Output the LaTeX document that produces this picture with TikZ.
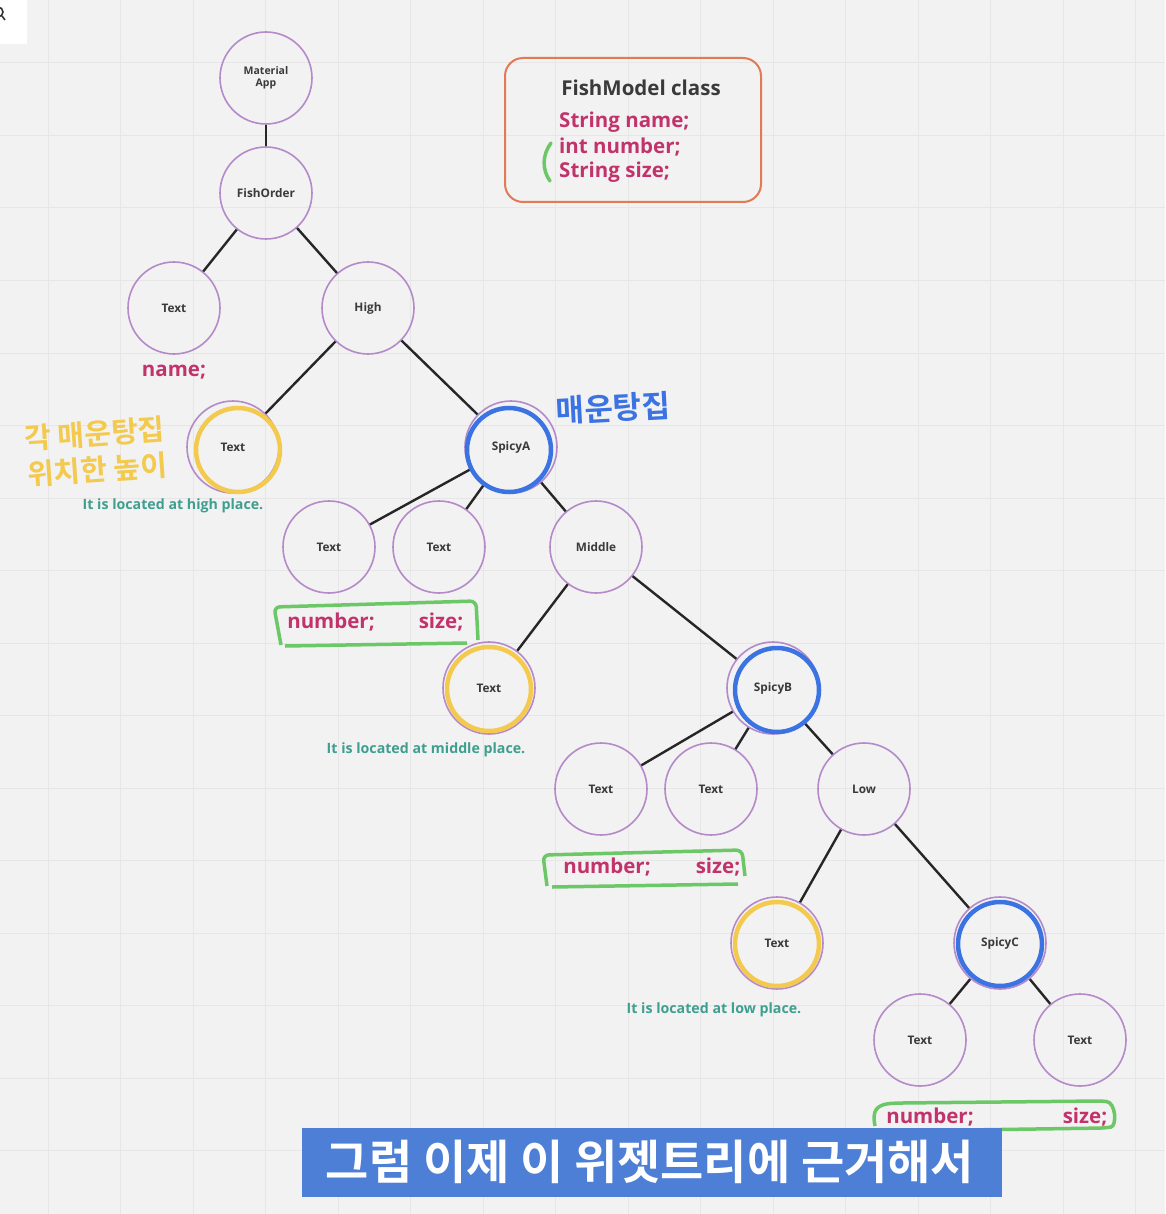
\documentclass[tikz,border=0pt]{standalone}
\usepackage{fontspec}
\setmainfont{Open Sans}
\newfontfamily\krfont{Noto Sans CJK KR}
\newfontfamily\krbold{Noto Sans CJK KR}[UprightFont=* Bold]
\definecolor{bgc}{HTML}{F2F2F2}
\definecolor{gridc}{HTML}{E6E6E6}
\definecolor{ringc}{HTML}{B58AC9}
\definecolor{pinkc}{HTML}{C2336B}
\definecolor{tealc}{HTML}{3E9E90}
\definecolor{greenc}{HTML}{6CC867}
\definecolor{yellowc}{HTML}{F3C94E}
\definecolor{bluec}{HTML}{3C73E3}
\definecolor{orangec}{HTML}{E27A55}
\definecolor{capc}{HTML}{4E7FD6}
\definecolor{txtc}{HTML}{3A3A3A}
\tikzset{
  nd/.style={circle, draw=ringc, line width=1.6pt, minimum size=92pt, inner sep=0pt,
    font=\fontsize{11.8}{13}\selectfont\bfseries, text=txtc, align=center},
  edge/.style={line width=2.4pt, black!85},
  yring/.style={circle, draw=yellowc, line width=4.5pt, minimum size=84pt, inner sep=0pt},
  bring/.style={circle, draw=bluec, line width=4.5pt, minimum size=84pt, inner sep=0pt},
  pinklab/.style={font=\fontsize{20.5}{24}\selectfont\bfseries, text=pinkc},
  teallab/.style={font=\fontsize{14.2}{16}\selectfont\bfseries, text=tealc},
  gbox/.style={draw=greenc, line width=3.5pt, rounded corners=6pt},
}
\begin{document}
\begin{tikzpicture}[x=1pt,y=-1pt]
\useasboundingbox (0,0) rectangle (1165,1214);
\fill[bgc] (0,0) rectangle (1165,1214);
% faint grid
\foreach \gx in {48,120.5,...,1165} \draw[gridc, line width=1pt] (\gx,0) -- (\gx,1214);
\foreach \gy in {63,135.5,...,1214} \draw[gridc, line width=1pt] (0,\gy) -- (1165,\gy);
% top-left white tab
\fill[white] (0,0) rectangle (27,44);
\draw[black!80, line width=1.6pt] (-2,12) circle (5);
\draw[black!80, line width=1.6pt] (2,16) -- (5,20);

% tree nodes
\node[nd, font=\fontsize{10.5}{12}\selectfont\bfseries] (ma) at (266,78) {Material\\App};
\node[nd] (fo) at (266,193) {FishOrder};
\node[nd] (t1) at (174,308) {Text};
\node[nd] (hi) at (368,308) {High};
\node[nd] (t2) at (233,447) {Text};
\node[nd] (sa) at (511,447) {SpicyA};
\node[nd] (t3) at (329,547) {Text};
\node[nd] (t4) at (439,547) {Text};
\node[nd] (mi) at (596,547) {Middle};
\node[nd] (t5) at (489,688) {Text};
\node[nd] (sb) at (773,688) {SpicyB};
\node[nd] (t6) at (601,789) {Text};
\node[nd] (t7) at (711,789) {Text};
\node[nd] (lo) at (864,789) {Low};
\node[nd] (t8) at (777,943) {Text};
\node[nd] (sc) at (1000,943) {SpicyC};
\node[nd] (t9) at (920,1040) {Text};
\node[nd] (t10) at (1080,1040) {Text};

% connectors
\draw[edge] (ma) -- (fo);
\draw[edge] (fo) -- (t1);
\draw[edge] (fo) -- (hi);
\draw[edge] (hi) -- (t2);
\draw[edge] (hi) -- (sa);
\draw[edge] (sa) -- (t3);
\draw[edge] (sa) -- (t4);
\draw[edge] (sa) -- (mi);
\draw[edge] (mi) -- (t5);
\draw[edge] (mi) -- (sb);
\draw[edge] (sb) -- (t6);
\draw[edge] (sb) -- (t7);
\draw[edge] (sb) -- (lo);
\draw[edge] (lo) -- (t8);
\draw[edge] (lo) -- (sc);
\draw[edge] (sc) -- (t9);
\draw[edge] (sc) -- (t10);

% FishModel class box
\node[draw=orangec, line width=2pt, rounded corners=18pt, minimum width=256pt, minimum height=144pt] (fm) at (633,130) {};
\node[font=\fontsize{20.5}{24}\selectfont\bfseries, text=txtc] (fmt) at (641,88) {FishModel class};
\node[anchor=west, pinklab, inner sep=0pt] (f1) at (559,122) {String name;};
\node[anchor=west, pinklab, inner sep=0pt] (f2) at (559,147) {int number;};
\node[anchor=west, pinklab, inner sep=0pt] (f3) at (559,172) {String size;};
\draw[greenc, line width=3.5pt, line cap=round] (551,143) .. controls (542,155) and (542,170) .. (550,181);

% labels
\node[pinklab] (lname) at (174,372) {name;};
\node[teallab] (lhigh) at (173,506) {It is located at high place.};
\node[pinklab] (ln1) at (331,622) {number;};
\node[pinklab] (ls1) at (441,622) {size;};
\node[teallab] (lmid) at (426,750) {It is located at middle place.};
\node[pinklab] (ln2) at (607,867) {number;};
\node[pinklab] (ls2) at (718,867) {size;};
\node[teallab] (llow) at (714,1010) {It is located at low place.};
\node[pinklab] (ln3) at (930,1117) {number;};
\node[pinklab] (ls3) at (1085,1117) {size;};

% green hand-drawn boxes
\draw[gbox] (281,645) -- (274,607) -- (476,601) -- (478,640);
\draw[gbox] (285,646) -- (467,643);
\draw[gbox] (547,886) -- (543,855) -- (742,850) -- (745,876);
\draw[gbox] (552,887) -- (738,884);
\draw[gbox] (875,1126) .. controls (872,1110) and (876,1104) .. (900,1103) -- (1100,1101) .. controls (1116,1102) and (1117,1126) .. (1105,1128) -- (895,1131);

% yellow and blue rings
\node[yring] (y1) at (238,450) {};
\node[yring] (y2) at (489,689) {};
\node[yring] (y3) at (777,944) {};
\node[bring] (b1) at (509,450) {};
\node[bring] (b2) at (777,690) {};
\node[bring] (b3) at (1000,944) {};

% handwritten notes
\node[text=yellowc, font=\krbold\fontsize{29}{36}\selectfont, rotate=4, align=left] (ynote) at (96,452) {각 매운탕집\\위치한 높이};
\node[text=bluec, font=\krbold\fontsize{31}{34}\selectfont, rotate=3] (bnote) at (613,408) {매운탕집};

% caption
\node[fill=capc, minimum width=700pt, minimum height=69pt, inner sep=0pt] (cap) at (652,1162.5) {};
\node[text=white, font=\krbold\fontsize{47}{50}\selectfont] (capt) at (650,1162) {그럼 이제 이 위젯트리에 근거해서};
\end{tikzpicture}
\end{document}
